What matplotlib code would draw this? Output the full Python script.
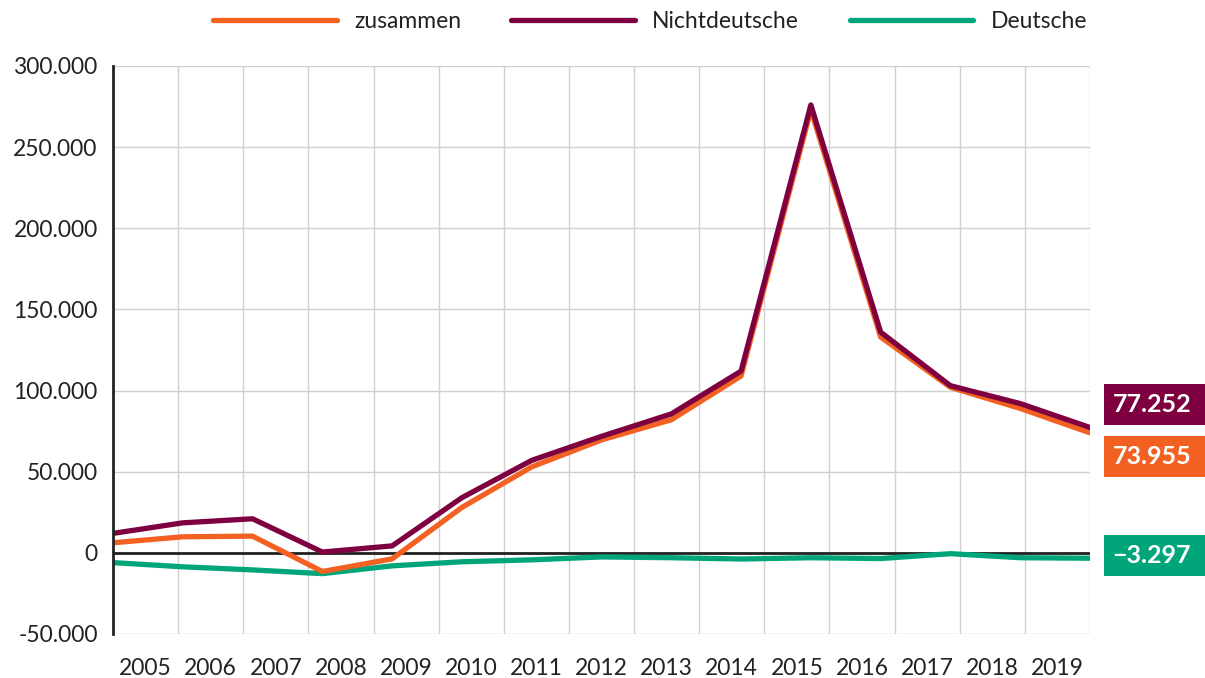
import matplotlib
matplotlib.use("Agg")
import matplotlib.pyplot as plt
from matplotlib.patches import Rectangle
import numpy as np

years = ["2005", "2006", "2007", "2008", "2009", "2010", "2011", "2012",
         "2013", "2014", "2015", "2016", "2017", "2018", "2019"]
zusammen = [6200, 9900, 10300, -11500, -3700, 28000, 53000, 69600, 82000,
            109000, 273000, 133000, 102000, 89000, 73955]
nichtdeutsche = [12000, 18500, 21000, 500, 4300, 34000, 57000, 71800, 85600,
                 112000, 276000, 136000, 103000, 92000, 77252]
deutsche = [-6000, -8600, -10500, -12800, -8000, -5500, -4300, -2500, -3000,
            -3800, -3000, -3500, -500, -3000, -3297]
yticks = [-50000, 0, 50000, 100000, 150000, 200000, 250000, 300000]
ytick_labels = ["-50.000", "0", "50.000", "100.000", "150.000", "200.000",
                "250.000", "300.000"]
end_labels = ["77.252", "73.955", "\u22123.297"]

c_zus = "#F26122"
c_nd = "#7E0040"
c_de = "#00A57A"

plt.rcParams['font.family'] = ['Lato', 'DejaVu Sans']

W, H = 1205, 678
fig = plt.figure(figsize=(W/100, H/100), dpi=100)
ax = fig.add_axes([113/W, 1-634/H, (1090-113)/W, (634-66)/H])

n = len(years)
x = np.arange(n)
xmax = n - 1
band = xmax / n
grid_x = [k * band for k in range(n + 1)]

for gx in grid_x:
    ax.axvline(gx, color="#d0d0d0", lw=1.0, zorder=0)
for yt in yticks:
    ax.axhline(yt, color="#d0d0d0", lw=1.0, zorder=0)
ax.axhline(0, color="#222222", lw=2.0, zorder=1)

ax.plot(x, deutsche, color=c_de, lw=3.8, solid_capstyle="round", zorder=3, label="Deutsche")
ax.plot(x, zusammen, color=c_zus, lw=3.8, solid_capstyle="round", zorder=4, label="zusammen")
ax.plot(x, nichtdeutsche, color=c_nd, lw=3.8, solid_capstyle="round", zorder=5, label="Nichtdeutsche")

ax.set_xlim(0, xmax)
ax.set_ylim(-50000, 300000)
ax.set_yticks(yticks)
ax.set_yticklabels(ytick_labels, fontsize=16.5, color="#222222")
ax.set_xticks([(k + 0.5) * band for k in range(n)])
ax.set_xticklabels(years, fontsize=16.5, color="#222222")
ax.tick_params(length=0)
ax.tick_params(axis="y", pad=11)
ax.tick_params(axis="x", pad=17)
for s in ["top", "right", "bottom"]:
    ax.spines[s].set_visible(False)
ax.spines["left"].set_color("#222222")
ax.spines["left"].set_linewidth(2.0)
ax.spines["left"].set_zorder(6)

# legend
handles, labels = ax.get_legend_handles_labels()
order = [1, 2, 0]
leg = fig.legend([handles[i] for i in order], [labels[i] for i in order],
                 loc="center", bbox_to_anchor=(650/W, 1-22/H), ncol=3,
                 frameon=False, fontsize=16.5, handlelength=5.4, handletextpad=0.75,
                 columnspacing=2.2)
for t in leg.get_texts():
    t.set_color("#222222")

# end labels
ends = [(c_nd, end_labels[0], 384, 425),
        (c_zus, end_labels[1], 436, 477),
        (c_de, end_labels[2], 535, 576)]
for col, txt, y0, y1 in ends:
    fig.patches.append(Rectangle((1104/W, 1-y1/H), (W-1104)/W, (y1-y0)/H,
                                 transform=fig.transFigure, facecolor=col,
                                 edgecolor="none"))
    fig.text(1152/W, 1 - (y0+y1)/2/H, txt, ha="center", va="center",
             fontsize=18, fontweight="bold", color="white")

fig.savefig("out.png", dpi=100)
